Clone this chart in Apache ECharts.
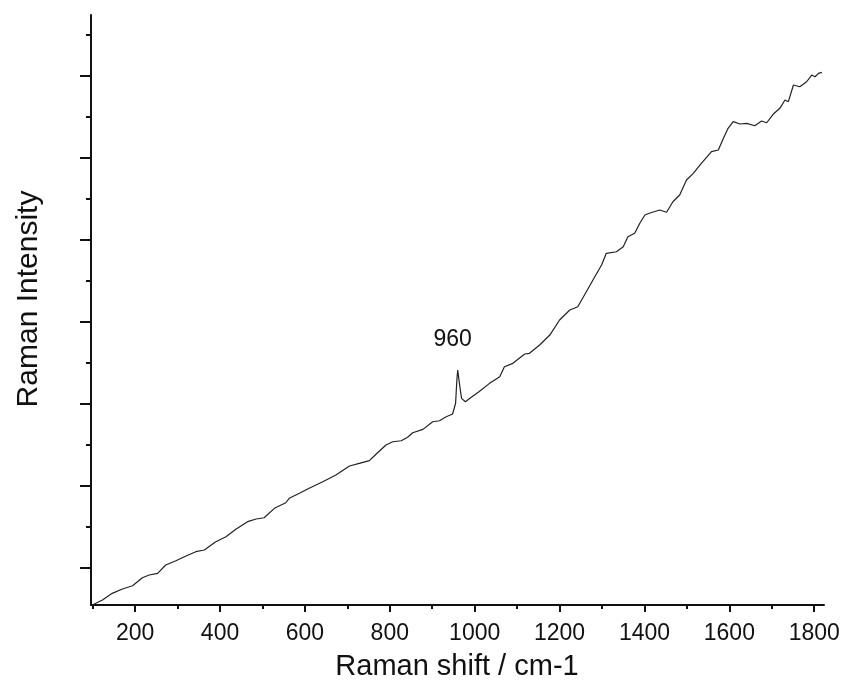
<!DOCTYPE html>
<html>
<head>
<meta charset="utf-8">
<script src="https://cdn.jsdelivr.net/npm/echarts@6/dist/echarts.min.js"></script>
<style>
  html, body { margin: 0; padding: 0; background: #fff; }
  #chart { width: 847px; height: 699px; }
</style>
</head>
<body>
<div id="chart"></div>
<script>
// Raman shift (cm-1) and intensity (arb. units)
const shift = [
  99, 123, 146, 170, 194, 217, 233, 253, 272, 296, 320, 343, 363, 390, 414, 438, 465, 485, 504, 528,
  555, 563, 587, 610, 642, 673, 705, 728, 752, 768, 791, 807, 827, 842, 854, 878, 901, 917, 933, 948,
  955, 958, 960, 964, 969, 978, 992, 1010, 1035, 1059, 1070, 1090, 1118, 1129, 1153, 1177, 1200, 1224,
  1243, 1263, 1283, 1299, 1310, 1334, 1350, 1361, 1377, 1389, 1401, 1413, 1436, 1452, 1467, 1483, 1499,
  1515, 1534, 1558, 1574, 1586, 1597, 1609, 1625, 1641, 1660, 1676, 1688, 1703, 1719, 1731, 1739, 1751,
  1766, 1782, 1794, 1802, 1810, 1818
];
const intensity = [
  549, 610, 691, 744, 784, 882, 915, 935, 1037, 1089, 1146, 1199, 1220, 1321, 1382, 1476, 1565, 1598, 1613, 1728,
  1796, 1850, 1911, 1972, 2052, 2134, 2244, 2277, 2309, 2390, 2500, 2540, 2552, 2594, 2650, 2691, 2784, 2796, 2845, 2878,
  3009, 3293, 3415, 3252, 3069, 3028, 3082, 3150, 3252, 3333, 3455, 3496, 3610, 3618, 3720, 3841, 4024, 4146,
  4187, 4370, 4552, 4695, 4838, 4857, 4918, 5040, 5082, 5204, 5305, 5329, 5366, 5338, 5467, 5549, 5732,
  5813, 5935, 6077, 6098, 6240, 6362, 6443, 6415, 6423, 6394, 6451, 6430, 6533, 6606, 6707, 6687, 6890,
  6869, 6930, 7012, 6991, 7033, 7045
];
const xLabels = [200, 400, 600, 800, 1000, 1200, 1400, 1600, 1800];
const xMinor = [100, 300, 500, 700, 900, 1100, 1300, 1500, 1700];
const yMajor = [1000, 2000, 3000, 4000, 5000, 6000, 7000];
const yMinor = [1500, 2500, 3500, 4500, 5500, 6500, 7500];
const peakShift = 960;
const peakIntensity = 3415;

const xMin = 96, xMax = 1823;
const yMin = 549, yMax = 7744;
const font = 'Arial, "Liberation Sans", sans-serif';
const ink = '#111';

const chart = echarts.init(document.getElementById('chart'));

function xAxisBase(extra) {
  return Object.assign({
    type: 'value', position: 'bottom', min: xMin, max: xMax,
    splitLine: { show: false },
    axisLine: { show: false },
    axisLabel: { show: false },
  }, extra);
}
function yAxisBase(extra) {
  return Object.assign({
    type: 'value', position: 'left', min: yMin, max: yMax,
    splitLine: { show: false },
    axisLine: { show: false },
    axisLabel: { show: false },
  }, extra);
}

chart.setOption({
  animation: false,
  backgroundColor: '#fff',
  grid: { left: 91, right: 23, top: 15, bottom: 94, outerBoundsMode: 'none' },
  xAxis: [
    xAxisBase({
      axisLine: { show: true, onZero: false, lineStyle: { color: ink, width: 2 } },
      axisTick: { show: true, length: 7, lineStyle: { color: ink, width: 2 }, customValues: xLabels },
      axisLabel: {
        show: true, customValues: xLabels, margin: 17, fontSize: 23, color: ink, fontFamily: font,
        formatter: (v) => String(v),
      },
    }),
    xAxisBase({
      axisTick: { show: true, length: 4, lineStyle: { color: ink, width: 2 }, customValues: xMinor },
    }),
  ],
  yAxis: [
    yAxisBase({
      axisLine: { show: true, onZero: false, lineStyle: { color: ink, width: 2 } },
      axisTick: { show: true, length: 11, lineStyle: { color: ink, width: 2 }, customValues: yMajor },
    }),
    yAxisBase({
      axisTick: { show: true, length: 5, lineStyle: { color: ink, width: 2 }, customValues: yMinor },
    }),
  ],
  graphic: [
    {
      type: 'text', x: 457, y: 667,
      style: { text: 'Raman shift / cm-1', fontSize: 29, fontFamily: font, fill: ink, align: 'center', verticalAlign: 'middle' },
    },
    {
      type: 'text', x: 29, y: 299, rotation: Math.PI / 2,
      style: { text: 'Raman Intensity', fontSize: 30, fontFamily: font, fill: ink, align: 'center', verticalAlign: 'middle' },
    },
  ],
  series: [{
    type: 'line',
    data: shift.map((s, i) => [s, intensity[i]]),
    showSymbol: false,
    lineStyle: { color: '#222', width: 1.2 },
    markPoint: {
      symbol: 'circle', symbolSize: 0,
      data: [{ coord: [peakShift, peakIntensity] }],
      label: { show: true, formatter: String(peakShift), offset: [-5, -30], fontSize: 23, color: ink, fontFamily: font },
    },
  }],
});
</script>
</body>
</html>
